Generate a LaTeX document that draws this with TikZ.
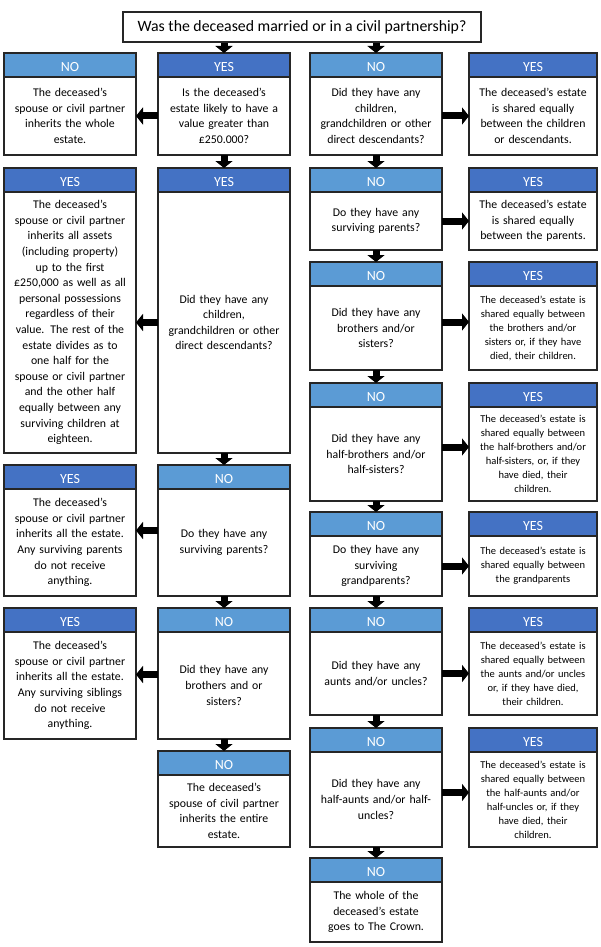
\documentclass[tikz,border=0pt]{standalone}
\usepackage{fontspec}
\setmainfont{Carlito}
\usetikzlibrary{arrows.meta,positioning}
\definecolor{noblue}{HTML}{5B9BD5}
\definecolor{yesblue}{HTML}{4472C4}
\definecolor{edge}{HTML}{262626}

\begin{document}
\begin{tikzpicture}[x=1pt, y=-1pt,
  font=\fontsize{11.8}{15.6}\selectfont,
  box/.style={draw=edge, line width=1.2pt, fill=white, align=center,
    inner xsep=3pt, inner ysep=2pt, outer sep=0pt, text width=126pt},
  wide/.style={text width=122pt},
  small/.style={font=\fontsize{10.5}{14}\selectfont},
  hd/.style={draw=edge, line width=1.2pt, text=white, minimum width=132pt,
    minimum height=24pt, inner sep=0pt, outer sep=0pt,
    font=\fontsize{14}{16}\selectfont, text height=13pt, text depth=0pt},
  hdno/.style={hd, fill=noblue},
  hdyes/.style={hd, fill=yesblue},
  ar/.style={line width=7pt, -{Triangle[length=7pt,width=17pt]}}]
  \useasboundingbox (0,0) rectangle (600,947);

  \node[draw=edge, line width=1.2pt, minimum width=358pt, minimum height=30pt,
    font=\fontsize{15.8}{18}\selectfont] (title) at (302,27)
    {Was the deceased married or in a civil partnership?};

  % married: spouse column and outcomes on the left
  \node[box, minimum height=78pt, anchor=north west] (v1) at (158,77)
    {Is the deceased’s\\estate likely to have a\\value greater than\\£250.000?};
  \node[hdyes, above=0pt of v1] (v1h) {YES};
  \node[box, minimum height=78pt, left=22pt of v1] (w1)
    {The deceased’s\\spouse or civil partner\\inherits the whole\\estate.};
  \node[hdno, above=0pt of w1] (w1h) {NO};

  \node[box, minimum height=261pt, below=37pt of v1] (v2)
    {Did they have any\\children,\\grandchildren or other\\direct descendants?};
  \node[hdyes, above=0pt of v2] (v2h) {YES};
  \node[box, minimum height=261pt, left=22pt of v2] (w2)
    {The deceased’s\\spouse or civil partner\\inherits all assets\\(including property)\\up to the first\\£250,000 as well as all\\personal possessions\\regardless of their\\value. The rest of the\\estate divides as to\\one half for the\\spouse or civil partner\\and the other half\\equally between any\\surviving children at\\eighteen.};
  \node[hdyes, above=0pt of w2] (w2h) {YES};

  \node[box, minimum height=107pt, below=36pt of v2] (v3)
    {Do they have any\\surviving parents?};
  \node[hdno, above=0pt of v3] (v3h) {NO};
  \node[box, minimum height=107pt, left=22pt of v3] (w3)
    {The deceased’s\\spouse or civil partner\\inherits all the estate.\\Any surviving parents\\do not receive\\anything.};
  \node[hdyes, above=0pt of w3] (w3h) {YES};

  \node[box, minimum height=107pt, below=36pt of v3] (v4)
    {Did they have any\\brothers and or\\sisters?};
  \node[hdno, above=0pt of v4] (v4h) {NO};
  \node[box, minimum height=107pt, left=22pt of v4] (w4)
    {The deceased’s\\spouse or civil partner\\inherits all the estate.\\Any surviving siblings\\do not receive\\anything.};
  \node[hdyes, above=0pt of w4] (w4h) {YES};

  \node[box, minimum height=72pt, below=36pt of v4] (v5)
    {The deceased’s\\spouse of civil partner\\inherits the entire\\estate.};
  \node[hdno, above=0pt of v5] (v5h) {NO};

  % not married: relatives column and outcomes on the right
  \node[box, minimum height=78pt, right=20pt of v1] (n1)
    {Did they have any\\children,\\grandchildren or other\\direct descendants?};
  \node[hdno, above=0pt of n1] (n1h) {NO};
  \node[box, wide, minimum height=78pt, right=27pt of n1] (y1)
    {The deceased’s estate\\is shared equally\\between the children\\or descendants.};
  \node[hdyes, minimum width=128pt, above=0pt of y1] (y1h) {YES};

  \node[box, minimum height=58pt, below=37pt of n1] (n2)
    {Do they have any\\surviving parents?};
  \node[hdno, above=0pt of n2] (n2h) {NO};
  \node[box, wide, minimum height=58pt, right=27pt of n2] (y2)
    {The deceased’s estate\\is shared equally\\between the parents.};
  \node[hdyes, minimum width=128pt, above=0pt of y2] (y2h) {YES};

  \node[box, minimum height=84pt, below=36pt of n2] (n3)
    {Did they have any\\brothers and/or\\sisters?};
  \node[hdno, above=0pt of n3] (n3h) {NO};
  \node[box, wide, small, minimum height=84pt, right=27pt of n3] (y3)
    {The deceased’s estate is\\shared equally between\\the brothers and/or\\sisters or, if they have\\died, their children.};
  \node[hdyes, minimum width=128pt, above=0pt of y3] (y3h) {YES};

  \node[box, minimum height=94pt, below=37pt of n3] (n4)
    {Did they have any\\half-brothers and/or\\half-sisters?};
  \node[hdno, above=0pt of n4] (n4h) {NO};
  \node[box, wide, small, minimum height=94pt, right=27pt of n4] (y4)
    {The deceased’s estate is\\shared equally between\\the half-brothers and/or\\half-sisters, or, if they\\have died, their\\children.};
  \node[hdyes, minimum width=128pt, above=0pt of y4] (y4h) {YES};

  \node[box, minimum height=60pt, below=35pt of n4] (n5)
    {Do they have any\\surviving\\grandparents?};
  \node[hdno, above=0pt of n5] (n5h) {NO};
  \node[box, wide, small, minimum height=60pt, right=27pt of n5] (y5)
    {The deceased’s estate is\\shared equally between\\the grandparents};
  \node[hdyes, minimum width=128pt, above=0pt of y5] (y5h) {YES};

  \node[box, minimum height=83pt, below=36pt of n5] (n6)
    {Did they have any\\aunts and/or uncles?};
  \node[hdno, above=0pt of n6] (n6h) {NO};
  \node[box, wide, small, minimum height=83pt, right=27pt of n6] (y6)
    {The deceased’s estate is\\shared equally between\\the aunts and/or uncles\\or, if they have died,\\their children.};
  \node[hdyes, minimum width=128pt, above=0pt of y6] (y6h) {YES};

  \node[box, minimum height=95pt, below=37pt of n6] (n7)
    {Did they have any\\half-aunts and/or half-\\uncles?};
  \node[hdno, above=0pt of n7] (n7h) {NO};
  \node[box, wide, small, minimum height=95pt, right=27pt of n7] (y7)
    {The deceased’s estate is\\shared equally between\\the half-aunts and/or\\half-uncles or, if they\\have died, their\\children.};
  \node[hdyes, minimum width=128pt, above=0pt of y7] (y7h) {YES};

  \node[box, minimum height=60pt, below=35pt of n7] (n8)
    {The whole of the\\deceased’s estate\\goes to The Crown.};
  \node[hdno, above=0pt of n8] (n8h) {NO};

  % arrows
  \draw[ar] (title.south -| v1h.north) -- (v1h.north);
  \draw[ar] (title.south -| n1h.north) -- (n1h.north);

  \draw[ar] (v1.west) -- (w1.east);
  \draw[ar] (v2.west) -- (w2.east);
  \draw[ar] ([yshift=12pt]v3.west) -- ([yshift=12pt]w3.east);
  \draw[ar] ([yshift=11pt]v4.west) -- ([yshift=11pt]w4.east);
  \draw[ar] (v1.south) -- (v2h.north);
  \draw[ar] (v2.south) -- (v3h.north);
  \draw[ar] (v3.south) -- (v4h.north);
  \draw[ar] (v4.south) -- (v5h.north);

  \draw[ar] (n1.east) -- (y1.west);
  \draw[ar] (n2.east) -- (y2.west);
  \draw[ar] ([yshift=6pt]n3.east) -- ([yshift=6pt]y3.west);
  \draw[ar] ([yshift=7pt]n4.east) -- ([yshift=7pt]y4.west);
  \draw[ar] (n5.east) -- (y5.west);
  \draw[ar] (n6.east) -- (y6.west);
  \draw[ar] ([yshift=7pt]n7.east) -- ([yshift=7pt]y7.west);
  \draw[ar] (n1.south) -- (n2h.north);
  \draw[ar] (n2.south) -- (n3h.north);
  \draw[ar] (n3.south) -- (n4h.north);
  \draw[ar] (n4.south) -- (n5h.north);
  \draw[ar] (n5.south) -- (n6h.north);
  \draw[ar] (n6.south) -- (n7h.north);
  \draw[ar] (n7.south) -- (n8h.north);
\end{tikzpicture}
\end{document}
